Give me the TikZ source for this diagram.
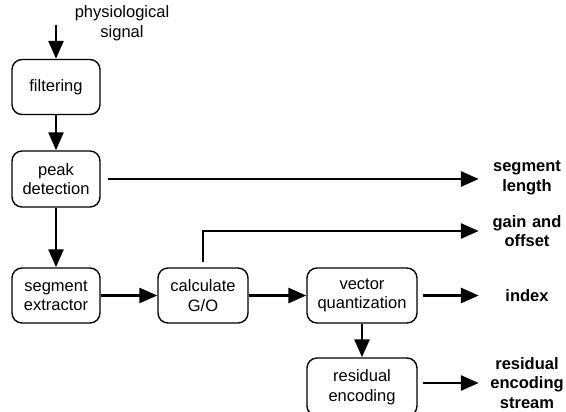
\documentclass[tikz,border=0pt]{standalone}
\usepackage{fontspec}
\setmainfont{Liberation Sans}
\usetikzlibrary{arrows.meta,positioning,calc}

\begin{document}
\begin{tikzpicture}[x=1pt,y=-1pt]
\tikzset{base/.style={text=black, align=center,inner sep=0pt}, }
\tikzset{testobase/.style={font=\fontsize{16.5}{19.5}\selectfont}, }
\tikzset{blocco node/.style={testobase,base,draw,line width=1.4pt,rounded corners=10pt,minimum height=55pt}, }
\tikzset{uscita/.style={testobase,base,font=\fontsize{16.5}{19.5}\selectfont\bfseries,text width=78pt}, }
\tikzset{linea/.style={-{Triangle[length=18pt,width=15pt]},line width=2.8pt},}
\useasboundingbox (0,0) rectangle (566,412);

% blocchi
\node[blocco node,minimum width=88pt] (filtro) at (56,87) {filtering};
\node[blocco node,minimum width=88pt,minimum height=56pt] (picco) at (56,179) {peak\\detection};
\node[blocco node,minimum width=88pt] (segm) at (56,295.5) {segment\\extractor};
\node[blocco node,minimum width=90pt] (calc) at (203,295.5) {calculate\\G/O};
\node[blocco node,minimum width=110pt] (vq) at (362,295.5) {vector\\quantization};
\node[blocco node,minimum width=110pt,minimum height=58pt] (resid) at (362,387) {residual\\encoding};

% ingresso e uscite
\coordinate (ingresso) at (56,25);
\node[testobase,base] (segnale) at (122,23) {physiological\\signal};
\node[uscita] (lung) at (527,178) {segment\\length};
\node[uscita] (guad) at (527,231) {gain and\\offset};
\node[uscita] (indice) at (527,296) {index};
\node[uscita] (flusso) at (527,383) {residual\\encoding\\stream};

% frecce
\draw[linea] (ingresso) -- (filtro.north);
\draw[linea] (filtro) -- (picco);
\draw[linea] (picco) -- (segm);
\draw[linea] (segm) -- (calc);
\draw[linea] (calc) -- (vq);
\draw[linea] (vq) -- (resid);
\draw[linea,shorten <=7pt,shorten >=9pt] (picco.east) -- (picco.east -| lung.west);
\draw[linea,shorten <=5pt,shorten >=9pt] (calc.north) |- (guad.west);
\draw[linea,shorten <=5pt,shorten >=9pt] (vq.east) -- (vq.east -| indice.west);
\draw[linea,shorten <=5pt,shorten >=9pt] (resid.east |- flusso.west) -- (flusso.west);
\end{tikzpicture}
\end{document}
